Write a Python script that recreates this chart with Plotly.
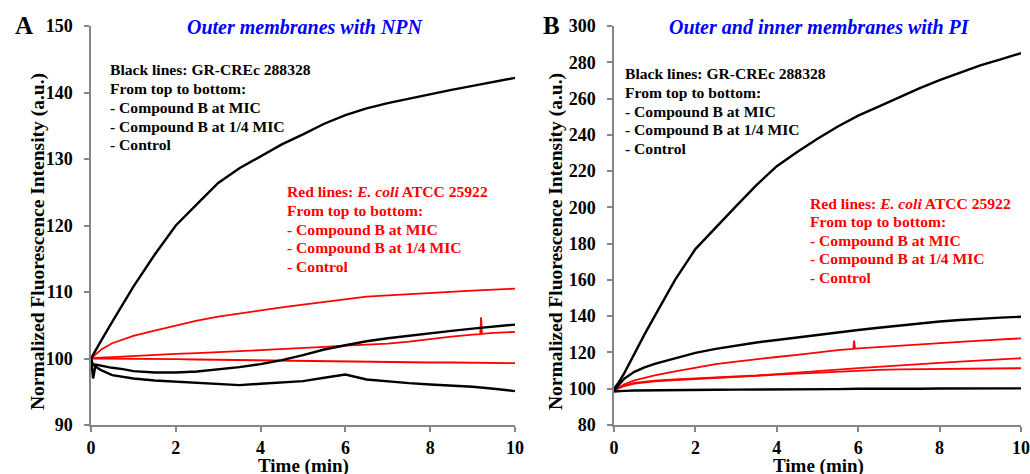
import plotly.graph_objects as go

# ---------------- data ----------------
T = [0, 0.05, 0.1, 0.25, 0.5, 0.75, 1, 1.5, 2, 2.5, 3, 3.5, 4, 4.5, 5, 5.5, 6, 6.5, 7, 7.5, 8, 8.5, 9, 9.5, 10]

# Panel A: outer membranes with NPN
a_black_mic = [100, 100.6, 101.1, 102.8, 105.5, 108.2, 110.8, 115.6, 120.0, 123.2, 126.4, 128.6, 130.4, 132.2, 133.7,
               135.3, 136.6, 137.6, 138.4, 139.1, 139.8, 140.4, 141.0, 141.6, 142.2]
a_black_quarter = [100, 99.0, 99.1, 98.9, 98.6, 98.4, 98.1, 97.9, 97.9, 98.05, 98.35, 98.7, 99.15, 99.75, 100.5,
                   101.35, 102.0, 102.6, 103.05, 103.45, 103.85, 104.15, 104.5, 104.8, 105.1]
a_black_ctrl = [100, 97.0, 98.8, 98.2, 97.5, 97.2, 97.0, 96.7, 96.5, 96.35, 96.1, 96.0, 96.2, 96.4, 96.6,
                97.1, 97.6, 96.85, 96.55, 96.3, 96.1, 95.95, 95.75, 95.45, 95.1]
a_red_mic = [100, 100.3, 100.6, 101.4, 102.3, 102.9, 103.4, 104.2, 105.0, 105.7, 106.3, 106.8, 107.3, 107.7, 108.1,
             108.5, 108.9, 109.3, 109.5, 109.7, 109.9, 110.0, 110.2, 110.35, 110.5]
a_red_quarter_t = [0, 0.1, 0.5, 1, 1.5, 2, 2.5, 3, 3.5, 4, 4.5, 5, 5.5, 6, 6.5, 7, 7.5, 8, 8.5, 9, 9.18, 9.2, 9.22, 9.5, 10]
a_red_quarter = [100, 100.1, 100.2, 100.4, 100.5, 100.7, 100.8, 100.9, 101.1, 101.25, 101.4, 101.5, 101.75, 101.95,
                 102.1, 102.25, 102.55, 102.95, 103.3, 103.6, 103.65, 106.2, 103.7, 103.85, 104.0]
a_red_ctrl = [100, 100.0, 100.0, 100.0, 100.0, 100.0, 100.0, 100.0, 99.9, 99.85, 99.8, 99.75, 99.7, 99.65, 99.65,
              99.6, 99.55, 99.5, 99.5, 99.45, 99.4, 99.4, 99.35, 99.3, 99.3]

# Panel B: outer and inner membranes with PI
b_black_mic = [100, 101.5, 103.0, 108.5, 119.5, 130.0, 140.0, 160.0, 177.0, 189.0, 200.7, 212.3, 222.7, 230.5, 237.8,
               244.6, 250.6, 255.6, 260.7, 265.6, 270.1, 274.3, 278.3, 281.6, 285.0]
b_black_quarter = [99, 100.2, 101.5, 105.5, 109.3, 111.8, 113.7, 116.9, 119.8, 122.0, 123.9, 125.5, 126.9, 128.3, 129.9,
                   131.2, 132.4, 133.6, 134.9, 136.2, 137.1, 137.9, 138.7, 139.2, 139.7]
b_black_ctrl = [98.5, 98.5, 98.6, 98.8, 99.0, 99.1, 99.2, 99.3, 99.3, 99.4, 99.5, 99.5, 99.6, 99.6, 99.7,
                99.8, 100.0, 99.9, 99.9, 100.0, 100.1, 100.1, 100.2, 100.3, 100.2]
b_red_mic_t = [0, 0.05, 0.1, 0.25, 0.5, 0.75, 1, 1.5, 2, 2.5, 3, 3.5, 4, 4.5, 5, 5.5, 5.88, 5.9, 5.92, 6, 6.5, 7, 7.5, 8,
               8.5, 9, 9.5, 10]
b_red_mic = [99, 99.8, 100.5, 102.5, 104.6, 106.0, 107.3, 109.6, 111.7, 113.6, 115.0, 116.4, 117.5, 118.7, 120.2,
             121.3, 122.0, 126.5, 122.1, 122.2, 122.8, 123.5, 124.3, 125.1, 125.8, 126.5, 127.1, 127.8]
b_red_quarter = [99, 99.5, 100.0, 101.8, 103.2, 103.9, 104.5, 105.1, 105.6, 106.1, 106.8, 107.3, 108.1, 108.8, 109.6,
                 110.5, 111.4, 112.2, 113.0, 113.7, 114.3, 114.9, 115.4, 116.0, 116.8]
b_red_ctrl = [99, 99.5, 100.0, 101.5, 102.8, 103.5, 104.1, 104.8, 105.3, 105.9, 106.6, 107.1, 107.8, 108.4, 109.0,
              109.5, 110.0, 110.4, 110.7, 110.8, 111.0, 111.1, 111.2, 111.2, 111.3]

x_ticks = [0, 2, 4, 6, 8, 10]
a_y_ticks = [90, 100, 110, 120, 130, 140, 150]
b_y_ticks = [80, 100, 120, 140, 160, 180, 200, 220, 240, 260, 280, 300]

title_a = "Outer membranes with NPN"
title_b = "Outer and inner membranes with PI"
black_lines = ["Black lines: GR-CREc 288328", "From top to bottom:", "- Compound B at MIC",
               "- Compound B at 1/4 MIC", "- Control"]
red_lines = ["Red lines: <i>E. coli</i> ATCC 25922", "From top to bottom:", "- Compound B at MIC",
             "- Compound B at 1/4 MIC", "- Control"]

# ---------------- figure ----------------
W, H = 1030, 474
BLACK = "#000000"
RED = "#FF0000"
FONT = "Liberation Serif"

fig = go.Figure()

def add(xs, ys, color, width, xa, ya):
    fig.add_trace(go.Scatter(x=xs, y=ys, mode="lines", line=dict(color=color, width=width),
                             xaxis=xa, yaxis=ya, showlegend=False, hoverinfo="skip"))

add(T, a_red_ctrl, RED, 1.8, "x", "y")
add(a_red_quarter_t, a_red_quarter, RED, 1.8, "x", "y")
add(T, a_red_mic, RED, 1.8, "x", "y")
add(T, a_black_ctrl, BLACK, 2.4, "x", "y")
add(T, a_black_quarter, BLACK, 2.4, "x", "y")
add(T, a_black_mic, BLACK, 2.4, "x", "y")

add(T, b_red_ctrl, RED, 1.8, "x2", "y2")
add(T, b_red_quarter, RED, 1.8, "x2", "y2")
add(b_red_mic_t, b_red_mic, RED, 1.8, "x2", "y2")
add(T, b_black_ctrl, BLACK, 2.4, "x2", "y2")
add(T, b_black_quarter, BLACK, 2.4, "x2", "y2")
add(T, b_black_mic, BLACK, 2.4, "x2", "y2")

def px(x):
    return x / W

def py(y):
    return 1 - y / H

tickfont = dict(family=FONT, size=18, color="black", weight="bold")
axis_common = dict(showgrid=False, zeroline=False, showline=True, linecolor="#868686", linewidth=1.5,
                   ticks="outside", ticklen=5, tickcolor="#868686", tickwidth=1.5, tickfont=tickfont,
                   automargin=False)

fig.update_layout(
    width=W, height=H,
    margin=dict(l=0, r=0, t=0, b=0),
    paper_bgcolor="white", plot_bgcolor="white",
    xaxis=dict(domain=[px(91), px(515)], range=[0, 10], tickvals=x_ticks, anchor="y",
               ticklabelstandoff=1, **axis_common),
    yaxis=dict(domain=[py(425), py(26)], range=[90, 150], tickvals=a_y_ticks, anchor="x",
               ticklabelstandoff=8, **axis_common),
    xaxis2=dict(domain=[px(614), px(1021)], range=[0, 10], tickvals=x_ticks, anchor="y2",
                ticklabelstandoff=1, **axis_common),
    yaxis2=dict(domain=[py(425), py(26)], range=[80, 300], tickvals=b_y_ticks, anchor="x2",
                ticklabelstandoff=8, **axis_common),
)

ann = []

def text(x, y, s, size, color="black", xanchor="left", angle=0, italic=False):
    ann.append(dict(x=px(x), y=py(y), xref="paper", yref="paper", text=s, showarrow=False,
                    xanchor=xanchor, yanchor="middle", textangle=angle,
                    font=dict(family=FONT, size=size, color=color, weight="bold",
                              style="italic" if italic else "normal")))

# panel letters
text(24, 25, "A", 25, xanchor="center")
text(551, 25, "B", 25, xanchor="center")
# panel titles
text(305, 27, title_a, 20, color="#0000FF", xanchor="center", italic=True)
text(819, 27, title_b, 20, color="#0000FF", xanchor="center", italic=True)
# axis titles
text(38, 242, "Normalized Fluorescence Intensity (a.u.)", 19.5, xanchor="center", angle=-90)
text(556, 242, "Normalized Fluorescence Intensity (a.u.)", 19.5, xanchor="center", angle=-90)
text(303, 466, "Time (min)", 19, xanchor="center")
text(818, 466, "Time (min)", 19, xanchor="center")

# text blocks
for i, s in enumerate(black_lines):
    text(108, 70 + i * 18.7, s, 15.6)
for i, s in enumerate(red_lines):
    text(285, 192 + i * 18.6, s, 15.6, color=RED)
for i, s in enumerate(black_lines):
    text(623, 74 + i * 18.6, s, 15.6)
for i, s in enumerate(red_lines):
    text(808, 203 + i * 18.6, s, 15.6, color=RED)

fig.update_layout(annotations=ann)
fig.write_html("out.html")
